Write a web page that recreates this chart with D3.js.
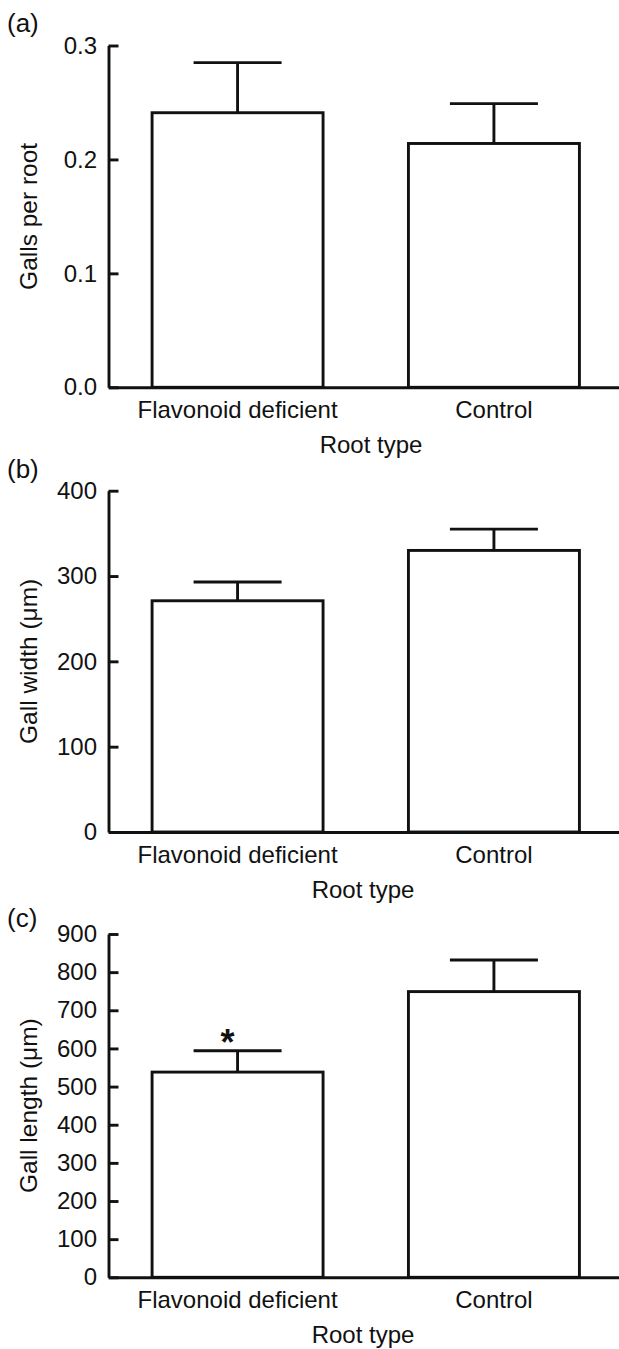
<!DOCTYPE html>
<html>
<head>
	<meta charset="utf-8">
	<title>Galls per root type</title>
	<script src="https://d3js.org/d3.v7.min.js"></script>
	<style>
		body { margin: 0; background: #fff; }
		text { font-family: "Liberation Sans", Arial, sans-serif; fill: #111; }
	</style>
</head>
<body>
</body>
<script>
	var rootTypes = ["Flavonoid deficient", "Control"];

	var gallsMean = [0.241, 0.214];
	var gallsSE = [0.044, 0.035];
	var gallsTicks = [0, 0.1, 0.2, 0.3];

	var widthMean = [271, 330];
	var widthSE = [22, 25];
	var widthTicks = [0, 100, 200, 300, 400];

	var lengthMean = [538, 749];
	var lengthSE = [56, 83];
	var lengthTicks = [0, 100, 200, 300, 400, 500, 600, 700, 800, 900];

	var width = 619, height = 1349;
	var axisX = 108.5, fontSize = 24, lw = 2.9;

	var svg = d3.select("body").append("svg").attr("width", width).attr("height", height);

	// shared x scale for the two root types
	var xScale = d3.scaleBand().domain(rootTypes).range([axisX, 623]).paddingInner(0.333).paddingOuter(0.17);

	function panel(opts) {
		var yScale = d3.scaleLinear().domain(opts.domain).range([opts.bottom, opts.top]);
		var g = svg.append("g");

		var data = rootTypes.map(function(d, i){ return {name: d, mean: opts.mean[i], se: opts.se[i]}; });

		// bars
		g.selectAll("rect").data(data).enter().append("rect")
			.attr("x", function(d){ return xScale(d.name); })
			.attr("y", function(d){ return yScale(d.mean); })
			.attr("width", xScale.bandwidth())
			.attr("height", function(d){ return yScale(0) - yScale(d.mean); })
			.attr("fill", "#fff").attr("stroke", "#111").attr("stroke-width", lw);

		// error bars (upper only)
		var cx = function(d){ return xScale(d.name) + xScale.bandwidth() / 2; };
		g.selectAll(".err").data(data).enter().append("line").attr("class", "err")
			.attr("x1", cx).attr("x2", cx)
			.attr("y1", function(d){ return yScale(d.mean); })
			.attr("y2", function(d){ return yScale(d.mean + d.se); })
			.attr("stroke", "#111").attr("stroke-width", lw);
		g.selectAll(".cap").data(data).enter().append("line").attr("class", "cap")
			.attr("x1", function(d){ return cx(d) - 44; }).attr("x2", function(d){ return cx(d) + 44; })
			.attr("y1", function(d){ return yScale(d.mean + d.se); })
			.attr("y2", function(d){ return yScale(d.mean + d.se); })
			.attr("stroke", "#111").attr("stroke-width", lw);

		// y axis, ticks pointing inward
		var yAxis = d3.axisLeft(yScale).tickValues(opts.ticks).tickFormat(d3.format(opts.fmt))
			.tickSizeInner(-10).tickSizeOuter(0).tickPadding(11.5);
		var yAxisG = g.append("g").attr("transform", "translate(" + axisX + ",0)").call(yAxis);
		yAxisG.attr("font-family", null);
		yAxisG.select(".domain").attr("stroke", "#111").attr("stroke-width", lw);
		yAxisG.selectAll(".tick line").attr("stroke", "#111").attr("stroke-width", lw);
		yAxisG.selectAll(".tick text").attr("font-size", fontSize).attr("fill", "#111");

		// x axis line + category labels
		var xAxis = d3.axisBottom(xScale).tickSize(0).tickSizeOuter(0);
		var xAxisG = g.append("g").attr("transform", "translate(0," + yScale(0) + ")").call(xAxis);
		xAxisG.attr("font-family", null);
		xAxisG.select(".domain").attr("stroke", "#111").attr("stroke-width", lw);
		xAxisG.selectAll(".tick text").attr("font-size", fontSize).attr("fill", "#111").attr("dy", null).attr("y", 31);

		g.append("text").attr("x", opts.titleX).attr("y", yScale(0) + 66)
			.attr("text-anchor", "middle").attr("font-size", fontSize).text("Root type");

		g.append("text").attr("transform", "translate(37," + (opts.top + opts.bottom) / 2 + ") rotate(-90)")
			.attr("text-anchor", "middle").attr("font-size", fontSize + 0.5).text(opts.ylabel);

		g.append("text").attr("x", 7).attr("y", opts.letterY).attr("font-size", 26).text(opts.letter);

		if (opts.star) {
			g.append("text").attr("x", cx(data[0]) - 10).attr("y", yScale(data[0].mean + data[0].se) + 4)
				.attr("text-anchor", "middle").attr("font-size", 36).attr("font-weight", "bold").text("*");
		}
	}

	panel({domain: [0, 0.3], top: 45.5, bottom: 387.3, mean: gallsMean, se: gallsSE, ticks: gallsTicks, fmt: ".1f",
		ylabel: "Galls per root", letter: "(a)", letterY: 32, titleX: 371});
	panel({domain: [0, 400], top: 490.7, bottom: 832, mean: widthMean, se: widthSE, ticks: widthTicks, fmt: "d",
		ylabel: "Gall width (μm)", letter: "(b)", letterY: 478, titleX: 363});
	panel({domain: [0, 900], top: 934, bottom: 1277.3, mean: lengthMean, se: lengthSE, ticks: lengthTicks, fmt: "d",
		ylabel: "Gall length (μm)", letter: "(c)", letterY: 927, titleX: 363, star: true});
</script>
</html>
